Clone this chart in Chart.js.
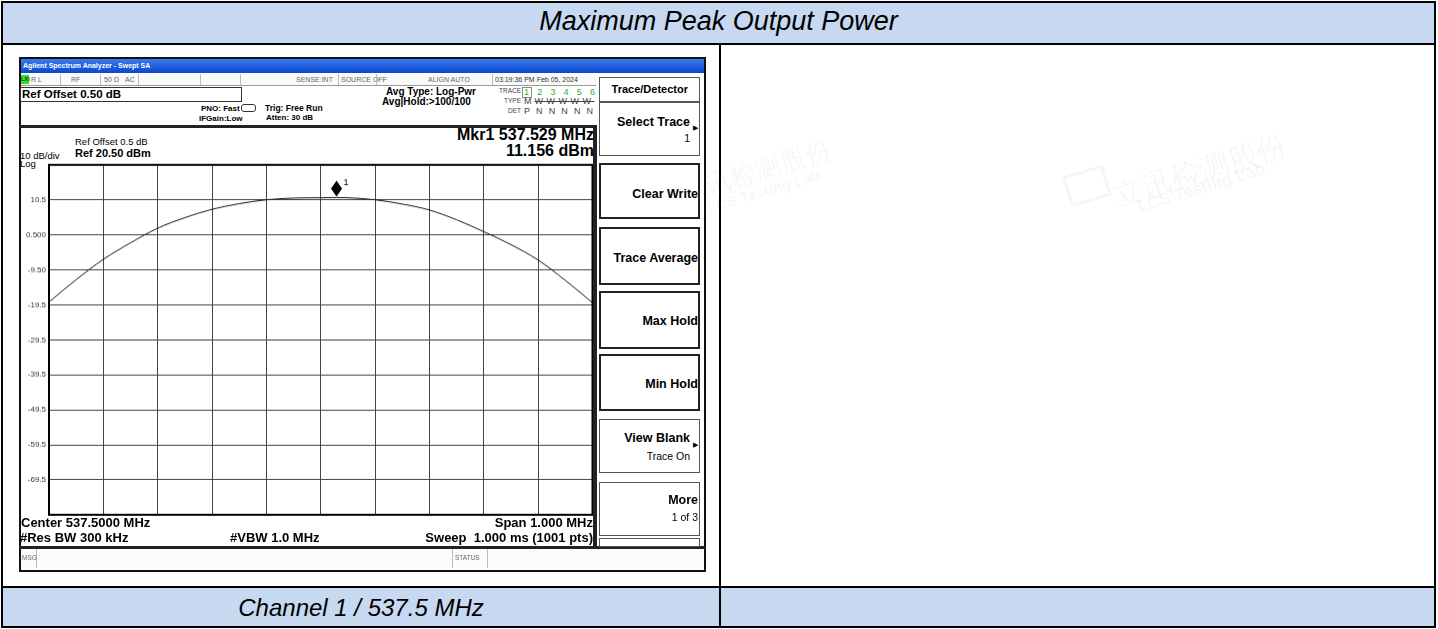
<!DOCTYPE html>
<html>
<head>
<meta charset="utf-8">
<script src="https://cdn.jsdelivr.net/npm/chart.js@4.4.0/dist/chart.umd.min.js"></script>
<style>
  body { margin:0; width:1438px; height:629px; background:#fff; position:relative; overflow:hidden;
         font-family: Arial, "Liberation Sans", sans-serif; }
  .a { position:absolute; white-space:nowrap; line-height:1; }
  .ln { position:absolute; background:#000; }
  .b { font-weight:bold; }
  .sk { position:absolute; left:599px; width:101px; box-sizing:border-box; border:1px solid #555; background:#fff; }
  .skt { position:absolute; right:1px; font-weight:bold; font-size:12.5px; line-height:1; white-space:nowrap; }
  .sks { position:absolute; right:1px; font-size:10.5px; line-height:1; white-space:nowrap; }
  .st { position:absolute; top:75px; font-size:7px; color:#666; line-height:9px; white-space:nowrap; }
  .sep { position:absolute; top:74px; width:1px; height:11px; background:#bbb; }
  .wm { position:absolute; color:rgba(0,0,0,0.05); white-space:nowrap; transform:rotate(-17deg); transform-origin:left top; }
</style>
</head>
<body>

<!-- watermarks -->
<div class="wm" style="left:676px;top:178px;font-size:26px;">立讯检测股份</div>
<div class="wm" style="left:705px;top:200px;font-size:15px;font-weight:bold;">LCS Testing Lab</div>
<div class="a" style="left:1066px;top:170px;width:36px;height:26px;border:3px solid rgba(0,150,60,0.06);transform:rotate(-17deg);"></div>
<div class="wm" style="left:1108px;top:178px;font-size:30px;">立讯检测股份</div>
<div class="wm" style="left:1135px;top:198px;font-size:17px;font-weight:bold;">LCS Testing Lab</div>

<!-- table frame -->
<div class="a" style="left:3px;top:3px;width:1431px;height:40px;background:#c6d9f1;"></div>
<div class="a" style="left:3px;top:588px;width:1431px;height:38px;background:#c6d9f1;"></div>
<div class="a" style="left:1px;top:1px;width:1435px;height:627px;border:2px solid #000;box-sizing:border-box;"></div>
<div class="ln" style="left:3px;top:43px;width:1431px;height:2px;"></div>
<div class="ln" style="left:3px;top:586px;width:1431px;height:2px;"></div>
<div class="ln" style="left:719px;top:45px;width:2px;height:581px;"></div>
<div class="a" style="left:3px;width:1431px;top:8px;text-align:center;font-size:27px;font-style:italic;">Maximum Peak Output Power</div>
<div class="a" style="left:3px;width:716px;top:596px;text-align:center;font-size:24px;font-style:italic;">Channel 1 / 537.5 MHz</div>

<!-- analyzer screenshot -->
<div class="a" style="left:19px;top:57px;width:687px;height:515px;border:2px solid #111;box-sizing:border-box;background:#fff;"></div>
<div class="a" style="left:21px;top:59px;width:683px;height:14px;background:linear-gradient(#3a7af0,#0b47c9);"></div>
<div class="a b" style="left:23px;top:62px;font-size:7px;color:#fff;">Agilent Spectrum Analyzer - Swept SA</div>

<!-- status row -->
<div class="a" style="left:21px;top:74px;width:575px;height:11px;background:#fafafa;border-bottom:1px solid #999;"></div>
<div class="a" style="left:21px;top:75px;width:8px;height:9px;background:#2ee02e;font-size:6px;line-height:9px;">LXI</div>
<div class="st" style="left:31px;">R L</div>
<div class="sep" style="left:60px;"></div>
<div class="st" style="left:71px;">RF</div>
<div class="sep" style="left:100px;"></div>
<div class="st" style="left:104px;">50 Ω</div>
<div class="st" style="left:125px;">AC</div>
<div class="sep" style="left:138px;"></div>
<div class="sep" style="left:200px;"></div>
<div class="sep" style="left:240px;"></div>
<div class="st" style="left:296px;">SENSE:INT</div>
<div class="sep" style="left:338px;"></div>
<div class="st" style="left:341px;">SOURCE OFF</div>
<div class="sep" style="left:376px;"></div>
<div class="st" style="left:428px;">ALIGN AUTO</div>
<div class="sep" style="left:492px;"></div>
<div class="st" style="left:495px;color:#333;">03:19:36 PM Feb 05, 2024</div>

<!-- settings block -->
<div class="a" style="left:20px;top:87px;width:222px;height:15px;border:1px solid #333;box-sizing:border-box;"></div>
<div class="a b" style="left:22px;top:89px;font-size:11.5px;">Ref Offset 0.50 dB</div>
<div class="a b" style="left:201px;top:105px;font-size:8px;">PNO: Fast</div>
<div class="a" style="left:241px;top:104px;width:13px;height:6px;border:1px solid #333;border-radius:3px;"></div>
<div class="a b" style="left:199px;top:115px;font-size:8px;">IFGain:Low</div>
<div class="a b" style="left:265px;top:104px;font-size:8.5px;">Trig: Free Run</div>
<div class="a b" style="left:266px;top:114px;font-size:8px;">Atten: 30 dB</div>
<div class="a b" style="left:386px;top:87px;font-size:10px;">Avg Type: Log-Pwr</div>
<div class="a b" style="left:382px;top:97px;font-size:10px;">Avg|Hold:&gt;100/100</div>
<div class="a" style="right:917px;top:88px;font-size:6.5px;color:#444;">TRACE</div>
<div class="a" style="left:522px;top:87px;width:10px;height:11px;border:1px solid #888;box-sizing:border-box;"></div>
<div class="a" style="left:524px;top:88px;font-size:9px;color:#3a3;letter-spacing:8.2px;">123456</div>
<div class="a" style="right:917px;top:98px;font-size:6.5px;color:#444;">TYPE</div>
<div class="a" style="left:524px;top:97px;font-size:9px;color:#444;">M<span style="letter-spacing:3.5px;margin-left:3px;text-decoration:line-through;">WWWWW</span></div>
<div class="a" style="right:917px;top:108px;font-size:6.5px;color:#444;">DET</div>
<div class="a" style="left:524px;top:107px;font-size:9px;color:#444;letter-spacing:6.1px;">PNNNNN</div>
<div class="ln" style="left:19px;top:125px;width:578px;height:3px;background:#222;"></div>

<!-- marker / reference readouts -->
<div class="a b" style="right:844px;top:127px;font-size:16px;">Mkr1 537.529 MHz</div>
<div class="a b" style="right:844px;top:143px;font-size:16px;">11.156 dBm</div>
<div class="a" style="left:75px;top:137px;font-size:9.5px;">Ref Offset 0.5 dB</div>
<div class="a b" style="left:75px;top:148px;font-size:11px;">Ref 20.50 dBm</div>
<div class="a" style="left:20px;top:151px;font-size:9.5px;">10 dB/div</div>
<div class="a" style="left:20px;top:159px;font-size:9.5px;">Log</div>

<!-- plot -->
<div id="wrap" class="a" style="left:19px;top:158px;width:574px;height:362px;">
  <canvas id="spec"></canvas>
</div>

<!-- right border of plot panel & bottom texts -->
<div class="ln" style="left:593px;top:126px;width:4px;height:422px;background:#222;"></div>
<div class="a b" style="left:21px;top:516px;font-size:13px;">Center 537.5000 MHz</div>
<div class="a b" style="left:20px;top:531px;font-size:13px;">#Res BW 300 kHz</div>
<div class="a b" style="left:230px;top:531px;font-size:13px;">#VBW 1.0 MHz</div>
<div class="a b" style="right:845px;top:516px;font-size:13px;">Span 1.000 MHz</div>
<div class="a b" style="right:845px;top:531px;font-size:13px;">Sweep&nbsp; 1.000 ms (1001 pts)</div>
<div class="ln" style="left:19px;top:546px;width:687px;height:3px;background:#222;"></div>
<div class="a" style="left:21px;top:549px;width:683px;height:19px;background:#fbfbfb;"></div>
<div class="a" style="left:36px;top:549px;width:1px;height:19px;background:#bbb;"></div>
<div class="a" style="left:22px;top:555px;font-size:6.5px;color:#666;">MSG</div>
<div class="a" style="left:452px;top:549px;width:1px;height:19px;background:#bbb;"></div>
<div class="a" style="left:487px;top:549px;width:1px;height:19px;background:#bbb;"></div>
<div class="a" style="left:455px;top:555px;font-size:6.5px;color:#666;">STATUS</div>

<!-- softkeys -->
<div class="sk" style="top:77px;height:25px;"><div class="skt" style="top:6px;right:11px;font-size:11px;">Trace/Detector</div></div>
<div class="sk" style="top:102px;height:54px;"><div class="skt" style="top:13px;right:9px;">Select Trace</div><div class="sks" style="top:21px;right:1px;font-size:7px;">&#9654;</div><div class="sks" style="top:30px;right:9px;">1</div></div>
<div class="sk" style="top:163px;height:56px;border:2px solid #222;"><div class="skt" style="top:23px;right:0;">Clear Write</div></div>
<div class="sk" style="top:227px;height:58px;border:2px solid #222;"><div class="skt" style="top:23px;right:0;">Trace Average</div></div>
<div class="sk" style="top:291px;height:58px;border:2px solid #222;"><div class="skt" style="top:22px;right:0;">Max Hold</div></div>
<div class="sk" style="top:354px;height:57px;border:2px solid #222;"><div class="skt" style="top:22px;right:0;">Min Hold</div></div>
<div class="sk" style="top:419px;height:54px;"><div class="skt" style="top:12px;right:9px;">View Blank</div><div class="sks" style="top:21px;right:1px;font-size:7px;">&#9654;</div><div class="sks" style="top:31px;right:9px;">Trace On</div></div>
<div class="sk" style="top:482px;height:54px;"><div class="skt" style="top:11px;">More</div><div class="sks" style="top:29px;">1 of 3</div></div>
<div class="sk" style="top:538px;height:9px;"></div>

<script>
// trace: frequency (MHz) and level (dBm)
const traceFreqMHz = [537.00, 537.05, 537.10, 537.15, 537.20, 537.25, 537.30, 537.35, 537.40, 537.45,
                      537.50, 537.529, 537.55, 537.60, 537.65, 537.70, 537.75, 537.80, 537.85, 537.90, 537.95, 538.00];
const traceLevelDbm = [-18.7, -12.3, -6.5, -1.8, 2.4, 5.4, 7.8, 9.4, 10.5, 11.0,
                       11.1, 11.156, 11.1, 10.5, 9.3, 7.6, 4.8, 1.4, -2.3, -6.7, -12.5, -18.9];

// marker 1
const markerFreqMHz = 537.529;
const markerLevelDbm = 11.156;

// screen settings
const centerMHz = 537.5;
const spanMHz = 1.0;
const refLevelDbm = 20.5;
const dbPerDiv = 10;
const yTickLabels = ['', '10.5', '0.500', '-9.50', '-19.5', '-29.5', '-39.5', '-49.5', '-59.5', '-69.5', ''];

const xGrid = [];
for (let i = 0; i <= 10; i++) xGrid.push(centerMHz - spanMHz / 2 + i * spanMHz / 10);
const yGrid = [];
for (let i = 0; i <= 10; i++) yGrid.push(refLevelDbm - i * dbPerDiv);

const frame = {
  id: 'frame',
  afterDraw(chart) {
    const { ctx, chartArea: a } = chart;
    ctx.save();
    ctx.strokeStyle = '#000';
    ctx.lineWidth = 2;
    ctx.strokeRect(a.left, a.top, a.right - a.left, a.bottom - a.top);
    ctx.restore();
  }
};

const marker = {
  id: 'marker',
  afterDatasetsDraw(chart) {
    const { ctx, scales: { x, y } } = chart;
    const px = x.getPixelForValue(markerFreqMHz);
    const py = y.getPixelForValue(markerLevelDbm);
    ctx.save();
    ctx.fillStyle = '#000';
    ctx.beginPath();
    ctx.moveTo(px, py - 17);
    ctx.lineTo(px + 5.5, py - 9);
    ctx.lineTo(px, py - 1);
    ctx.lineTo(px - 5.5, py - 9);
    ctx.closePath();
    ctx.fill();
    ctx.font = '9px Arial';
    ctx.fillText('1', px + 7, py - 12);
    ctx.restore();
  }
};

const chart = new Chart(document.getElementById('spec'), {
  type: 'line',
  data: {
    datasets: [{
      data: traceFreqMHz.map((f, i) => ({ x: f, y: traceLevelDbm[i] })),
      borderColor: '#151515',
      borderWidth: 1,
      pointRadius: 0,
      cubicInterpolationMode: 'monotone',
      fill: false
    }]
  },
  options: {
    animation: false,
    responsive: true,
    maintainAspectRatio: false,
    layout: { padding: 0 },
    plugins: { legend: { display: false }, tooltip: { enabled: false } },
    scales: {
      x: {
        type: 'linear',
        min: xGrid[0],
        max: xGrid[xGrid.length - 1],
        afterBuildTicks: s => { s.ticks = xGrid.map(v => ({ value: v })); },
        ticks: { display: false },
        grid: { color: '#454545', lineWidth: 1, drawTicks: false },
        border: { display: false }
      },
      y: {
        type: 'linear',
        min: yGrid[yGrid.length - 1],
        max: yGrid[0],
        afterBuildTicks: s => { s.ticks = yGrid.map(v => ({ value: v })); },
        afterFit: s => { s.width = 30; },
        ticks: {
          padding: 3,
          color: '#333',
          font: { family: 'Arial', size: 8 },
          callback: (v, i) => yTickLabels[i]
        },
        grid: { color: '#454545', lineWidth: 1, drawTicks: false },
        border: { display: false }
      }
    }
  },
  plugins: [frame, marker]
});

// line the plot area up with the analyzer graticule
const wrap = document.getElementById('wrap');
const target = { left: 49, top: 165, right: 593, bottom: 514 };
const ca = chart.chartArea;
const padL = ca.left, padT = ca.top;
const padR = chart.width - ca.right, padB = chart.height - ca.bottom;
wrap.style.left = (target.left - padL) + 'px';
wrap.style.top = (target.top - padT) + 'px';
wrap.style.width = (target.right - target.left + padL + padR) + 'px';
wrap.style.height = (target.bottom - target.top + padT + padB) + 'px';
chart.resize();
</script>
</body>
</html>
